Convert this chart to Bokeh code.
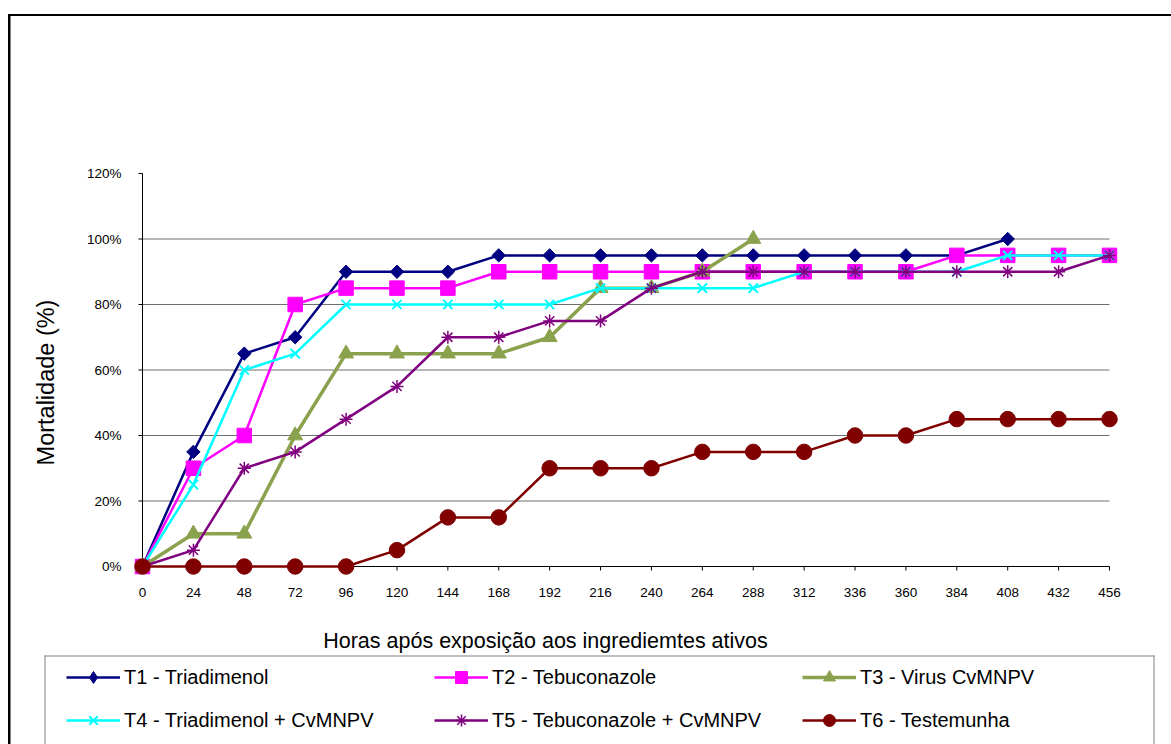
import math
from bokeh.plotting import figure
from bokeh.models import Range1d, Legend, LegendItem, BoxAnnotation, Label
from bokeh.core.properties import value
from bokeh.embed import file_html
from bokeh.resources import INLINE

# ---------------- data ----------------
hours = [0, 24, 48, 72, 96, 120, 144, 168, 192, 216, 240, 264, 288, 312, 336, 360, 384, 408, 432, 456]
x_tick_labels = [str(h) for h in hours]
y_ticks = [0, 20, 40, 60, 80, 100, 120]
y_tick_labels = [f"{v}%" for v in y_ticks]
grid_ticks = [20, 40, 60, 80, 100]

labels = ["T1 - Triadimenol", "T2 - Tebuconazole", "T3 - Virus CvMNPV",
          "T4 - Triadimenol + CvMNPV", "T5 - Tebuconazole + CvMNPV", "T6 - Testemunha"]
t1 = [0, 35, 65, 70, 90, 90, 90, 95, 95, 95, 95, 95, 95, 95, 95, 95, 95, 100]
t2 = [0, 30, 40, 80, 85, 85, 85, 90, 90, 90, 90, 90, 90, 90, 90, 90, 95, 95, 95, 95]
t3 = [0, 10, 10, 40, 65, 65, 65, 65, 70, 85, 85, 90, 100]
t4 = [0, 25, 60, 65, 80, 80, 80, 80, 80, 85, 85, 85, 85, 90, 90, 90, 90, 95, 95, 95]
t5 = [0, 5, 30, 35, 45, 55, 70, 70, 75, 75, 85, 90, 90, 90, 90, 90, 90, 90, 90, 95]
t6 = [0, 0, 0, 0, 0, 5, 15, 15, 30, 30, 30, 35, 35, 35, 40, 40, 45, 45, 45, 45]
series = [t1, t2, t3, t4, t5, t6]

x_title = "Horas após exposição aos ingrediemtes ativos"
y_title = "Mortalidade (%)"

# ---------------- layout: the plot frame covers the whole canvas ----------------
W, H = 1171, 744
AX_L, AX_R = 142, 1109        # pixel of x=0 / x=456
AX_T, AX_B = 173, 566         # pixel of y=120 / y=0
xpp = (hours[-1] - hours[0]) / (AX_R - AX_L)
ypp = (y_ticks[-1] - y_ticks[0]) / (AX_B - AX_T)
x_range = Range1d(hours[0] - AX_L * xpp, hours[0] + (W - AX_L) * xpp)
y_range = Range1d(y_ticks[0] - (H - AX_B) * ypp, y_ticks[0] + AX_B * ypp)

FONT = "Liberation Sans"

p = figure(width=W, height=H, output_backend="svg", toolbar_location=None,
           x_range=x_range, y_range=y_range, title=None,
           x_axis_location=None, y_axis_location=None,
           min_border=0, min_border_left=0, min_border_right=0,
           min_border_top=0, min_border_bottom=0,
           background_fill_color="white", border_fill_color="white")
p.outline_line_color = None
p.grid.visible = False

# gridlines and axis lines
p.segment(x0=hours[0], x1=hours[-1], y0=grid_ticks, y1=grid_ticks,
          line_color="#6e6e6e", line_width=1)
p.segment(x0=[hours[0], hours[0]], y0=[y_ticks[0], y_ticks[0]],
          x1=[hours[-1], hours[0]], y1=[y_ticks[0], y_ticks[-1]],
          line_color="black", line_width=1)
# tick marks (outward, 4 px)
p.ray(x=hours, y=y_ticks[0], length=4, length_units="screen", angle=-math.pi / 2,
      line_color="black", line_width=1)
p.ray(x=hours[0], y=y_ticks, length=4, length_units="screen", angle=math.pi,
      line_color="black", line_width=1)
# tick labels
p.text(x=hours, y=y_ticks[0], text=x_tick_labels, y_offset=21,
       text_align="center", text_baseline="top", text_color="black",
       text_font=value(FONT), text_font_size="13.5px")
p.text(x=hours[0], y=y_ticks, text=y_tick_labels, x_offset=-21,
       text_align="right", text_baseline="middle", text_color="black",
       text_font=value(FONT), text_font_size="13.5px")
# axis titles
p.add_layout(Label(x=545, y=640, x_units="canvas", y_units="canvas", text=x_title,
                   text_align="center", text_baseline="middle", text_color="black",
                   text_font=FONT, text_font_size="21.5px"))
p.add_layout(Label(x=45, y=382, x_units="canvas", y_units="canvas", text=y_title,
                   angle=math.pi / 2, text_align="center", text_baseline="middle",
                   text_color="black", text_font=FONT, text_font_size="23.5px"))

styles = [
    dict(color="#000080", marker="square", size=9.5, angle=math.pi / 4, lw=2.5, mlw=1),
    dict(color="#FF00FF", marker="square", size=14.5, angle=0, lw=2.5, mlw=1),
    dict(color="#8AA24E", marker="triangle", size=15, angle=0, lw=3.5, mlw=1),
    dict(color="#00FFFF", marker="x", size=13, angle=0, lw=2.5, mlw=2),
    dict(color="#800080", marker="asterisk", size=13, angle=0, lw=2.5, mlw=1.5),
    dict(color="#800000", marker="circle", size=15.5, angle=0, lw=2.5, mlw=1),
]

items = []
for i, (lab, vals, st) in enumerate(zip(labels, series, styles)):
    xs = hours[:len(vals)]
    lr = p.line(xs, vals, line_color=st["color"], line_width=st["lw"])
    rends = [lr]
    if i == 0:
        # legend key for the diamonds (the legend draws markers unrotated);
        # in the plot it lies hidden under the rotated squares drawn next
        kr = p.scatter(xs, vals, marker="diamond", size=11,
                       fill_color=st["color"], line_color=st["color"])
        rends.append(kr)
    sr = p.scatter(xs, vals, marker=st["marker"], size=st["size"], angle=st["angle"],
                   fill_color=st["color"], line_color=st["color"], line_width=st["mlw"])
    if i != 0:
        rends.append(sr)
    items.append(LegendItem(label=lab, renderers=rends))

# legend entries
GW, GH, SP = 54, 30, 13
ROW1_Y, COL1_X = 677, 66
legend = Legend(items=items, orientation="horizontal", ncols=3,
                glyph_width=GW, glyph_height=GH, label_height=GH, label_width=297,
                label_standoff=4, spacing=SP, padding=0, margin=0,
                border_line_color=None, background_fill_alpha=0,
                label_text_font=FONT, label_text_font_size="20px",
                label_text_color="black", label_text_baseline="middle",
                location=(COL1_X, H - (ROW1_Y - GH / 2) - (2 * GH + SP)))
p.add_layout(legend, "center")


def bar(left, right, top, bottom, color):
    return BoxAnnotation(left=left, right=right, top=top, bottom=bottom,
                         left_units="canvas", right_units="canvas",
                         top_units="canvas", bottom_units="canvas",
                         fill_color=color, fill_alpha=1, line_alpha=0)


# legend box: left, top and right sides (its lower edge lies below the window)
for b in [bar(44, 45, 655, H, "#808080"), bar(44, 1154, 655, 656, "#808080"),
          bar(1153, 1154, 655, H, "#808080")]:
    p.add_layout(b)

# outer chart frame: only its left and top sides fall inside the window
p.add_layout(bar(7.5, 10, 13.5, H, "black"))
p.add_layout(bar(7.5, W, 13.5, 15.5, "black"))

open("out.html", "w").write(file_html(p, INLINE))
